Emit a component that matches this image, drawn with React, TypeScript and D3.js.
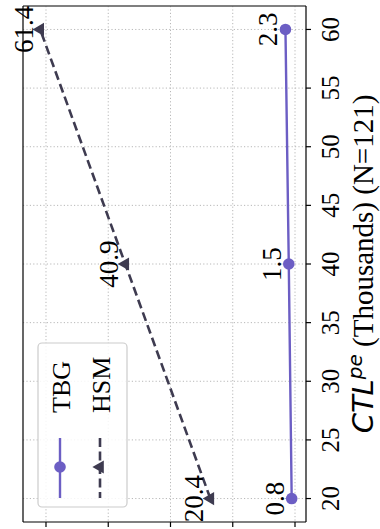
import React from "react";
import * as d3 from "d3";

const ctl = [20, 40, 60];
const tbg = [0.8, 1.5, 2.3];
const hsm = [20.4, 40.9, 61.4];
const xTicks = [20, 25, 30, 35, 40, 45, 50, 55, 60];
const yTicks = [0, 15, 30, 45, 60];
const seriesNames = ["TBG", "HSM"];

const W = 380;
const H = 529;
const plot = { left: 23, right: 306, top: 6, bottom: 522 };
const SERIF = "'Liberation Serif', 'Times New Roman', serif";
const C_TBG = "#6c5ec4";
const C_HSM = "#3e3b50";

export default function App() {
  // original x-axis (CTL) runs vertically: 20 at bottom, 60 at top
  const x = d3.scaleLinear().domain([18, 62]).range([plot.bottom, plot.top]);
  // original y-axis runs horizontally: larger values to the left
  const y = d3.scaleLinear().domain([-2.65, 65.54]).range([plot.right, plot.left]);

  const line = d3
    .line<[number, number]>()
    .x((d) => y(d[1]))
    .y((d) => x(d[0]));

  const tbgPts = ctl.map((c, i) => [c, tbg[i]] as [number, number]);
  const hsmPts = ctl.map((c, i) => [c, hsm[i]] as [number, number]);
  const tri = d3.symbol().type(d3.symbolTriangle).size(75)() as string;

  const rot = (px: number, py: number) => `translate(${px},${py}) rotate(-90)`;

  return (
    <svg
      width={W}
      height={H}
      style={{ position: "absolute", left: 0, top: 0, background: "#fff" }}
      fontFamily={SERIF}
    >
      <rect x={0} y={0} width={W} height={H} fill="#fff" />
      {/* grid */}
      {xTicks.map((t) => (
        <line
          key={"gx" + t}
          x1={plot.left}
          x2={plot.right}
          y1={x(t)}
          y2={x(t)}
          stroke="#b8b8b8"
          strokeWidth={1}
          strokeDasharray="1.2,2.2"
        />
      ))}
      {yTicks.map((t) => (
        <line
          key={"gy" + t}
          x1={y(t)}
          x2={y(t)}
          y1={plot.top}
          y2={plot.bottom}
          stroke="#b8b8b8"
          strokeWidth={1}
          strokeDasharray="1.2,2.2"
        />
      ))}

      {/* spines */}
      <line x1={plot.left} x2={plot.right} y1={plot.top} y2={plot.top} stroke="#555" strokeWidth={1.6} />
      <line x1={plot.left} x2={plot.left} y1={plot.top} y2={plot.bottom} stroke="#000" strokeWidth={1.2} />
      <line x1={plot.right} x2={plot.right} y1={plot.top} y2={plot.bottom} stroke="#000" strokeWidth={1.2} />
      <line x1={plot.left} x2={plot.right} y1={plot.bottom} y2={plot.bottom} stroke="#000" strokeWidth={1.2} />

      {/* x-axis (right side) ticks and labels */}
      {xTicks.map((t) => (
        <g key={"xt" + t}>
          <line x1={plot.right} x2={plot.right + 5} y1={x(t)} y2={x(t)} stroke="#000" strokeWidth={1.2} />
          <text transform={rot(339, x(t))} textAnchor="middle" fontSize={25} fill="#000">
            {t}
          </text>
        </g>
      ))}
      {/* y-axis (bottom) ticks */}
      {yTicks.map((t) => (
        <line key={"yt" + t} x1={y(t)} x2={y(t)} y1={plot.bottom} y2={plot.bottom + 5} stroke="#000" strokeWidth={1.2} />
      ))}

      {/* axis label */}
      <text transform={rot(373, (plot.top + plot.bottom) / 2)} textAnchor="middle" fontSize={29} fill="#000">
        <tspan fontFamily="'DejaVu Sans', sans-serif" fontStyle="italic">CTL</tspan>
        <tspan fontFamily="'DejaVu Sans', sans-serif" fontStyle="italic" fontSize={20} dy={-11}>pe</tspan>
        <tspan dy={11}> (Thousands) (N=121)</tspan>
      </text>

      {/* HSM series */}
      <path d={line(hsmPts) as string} fill="none" stroke={C_HSM} strokeWidth={2.6} strokeDasharray="9,4.5" />
      {hsmPts.map((p, i) => (
        <path key={"hm" + i} d={tri} transform={`translate(${y(p[1])},${x(p[0])}) rotate(-90)`} fill={C_HSM} />
      ))}
      {/* TBG series */}
      <path d={line(tbgPts) as string} fill="none" stroke={C_TBG} strokeWidth={2.4} />
      {tbgPts.map((p, i) => (
        <circle key={"tm" + i} cx={y(p[1])} cy={x(p[0])} r={5.8} fill={C_TBG} />
      ))}

      {/* annotations */}
      {hsmPts.map((p, i) => (
        <text key={"ha" + i} transform={rot(y(p[1]) - 7, x(p[0]))} textAnchor="middle" fontSize={27} fill="#000">
          {hsm[i].toFixed(1)}
        </text>
      ))}
      {tbgPts.map((p, i) => (
        <text key={"ta" + i} transform={rot(y(p[1]) - 8, x(p[0]))} textAnchor="middle" fontSize={27} fill="#000">
          {tbg[i].toFixed(1)}
        </text>
      ))}

      {/* legend */}
      <g>
        <rect x={38} y={343} width={89} height={164} rx={4} fill="#fff" fillOpacity={0.85} stroke="#cccccc" strokeWidth={1.2} />
        <line x1={60} x2={60} y1={438} y2={498} stroke={C_TBG} strokeWidth={2.4} />
        <circle cx={60} cy={467} r={5.8} fill={C_TBG} />
        <text transform={rot(70, 413)} textAnchor="start" fontSize={26} fill="#000">
          {seriesNames[0]}
        </text>
        <line x1={100} x2={100} y1={438} y2={498} stroke={C_HSM} strokeWidth={2.6} strokeDasharray="9,4.5" />
        <path d={tri} transform={`translate(100,467) rotate(-90)`} fill={C_HSM} />
        <text transform={rot(110, 413)} textAnchor="start" fontSize={26} fill="#000">
          {seriesNames[1]}
        </text>
      </g>
    </svg>
  );
}
